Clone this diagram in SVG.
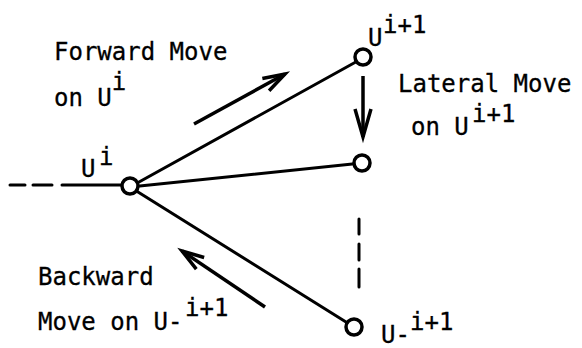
<svg xmlns="http://www.w3.org/2000/svg" width="582" height="348" viewBox="0 0 582 348">
<style>
.t{font-family:"DejaVu Sans Mono","Liberation Mono",monospace;font-size:24px;fill:#000;stroke:#000;stroke-width:0.3}
.e{stroke:#000;stroke-width:3;fill:none;stroke-linecap:round}
.n{stroke:#000;stroke-width:3.5;fill:#fff}
.a{stroke:#000;stroke-width:3.5;fill:none}
</style>
<defs>
<marker id="ah" markerUnits="userSpaceOnUse" markerWidth="30" markerHeight="20" refX="0" refY="0" orient="auto" overflow="visible">
<path d="M-22,-7 L0,0 L-22,7" fill="none" stroke="#000" stroke-width="3.5"/>
</marker>
<marker id="ahl" markerUnits="userSpaceOnUse" markerWidth="30" markerHeight="20" refX="0" refY="0" orient="auto" overflow="visible">
<path d="M-28,-8 L0,0 L-28,8" fill="none" stroke="#000" stroke-width="3.5"/>
</marker>
</defs>
<g id="connectors">
<path class="e" d="M10,185 H25 M33,185 H52 M62,185 H130"/>
<line class="e" x1="130" y1="187" x2="363" y2="58"/>
<line class="e" x1="130" y1="187" x2="362" y2="163"/>
<line class="e" x1="130" y1="187" x2="354" y2="327"/>
<path class="e" d="M359,219 V234 M359,244 V260 M359,269 V287"/>
<line class="a" x1="194" y1="124" x2="285" y2="74" marker-end="url(#ah)"/>
<line class="a" x1="363" y1="76" x2="363" y2="137" marker-end="url(#ahl)"/>
<line class="a" x1="265" y1="307" x2="182" y2="251" marker-end="url(#ah)"/>
</g>
<g id="node-ui"><circle class="n" cx="130" cy="186" r="8"/></g>
<g id="node-top"><circle class="n" cx="363" cy="57" r="8"/></g>
<g id="node-mid"><circle class="n" cx="362" cy="163" r="8"/></g>
<g id="node-bot"><circle class="n" cx="354" cy="327" r="8"/></g>
<g id="labels">
<text class="t" x="54" y="60">Forward Move</text>
<text class="t" x="54" y="106">on U<tspan dy="-16">i</tspan></text>
<text class="t" x="81" y="177">U<tspan x="99" dy="-12">i</tspan></text>
<text class="t" x="368" y="46">U<tspan x="383" dy="-13">i+1</tspan></text>
<text class="t" x="398" y="92">Lateral Move</text>
<text class="t" x="411" y="135">on U<tspan x="472" dy="-13">i+1</tspan></text>
<text class="t" x="38" y="330">Move on U-<tspan x="185" dy="-14">i+1</tspan></text>
<text class="t" x="38" y="285">Backward</text>
<text class="t" x="381" y="343">U-<tspan x="410" dy="-13">i+1</tspan></text>
</g>
</svg>
